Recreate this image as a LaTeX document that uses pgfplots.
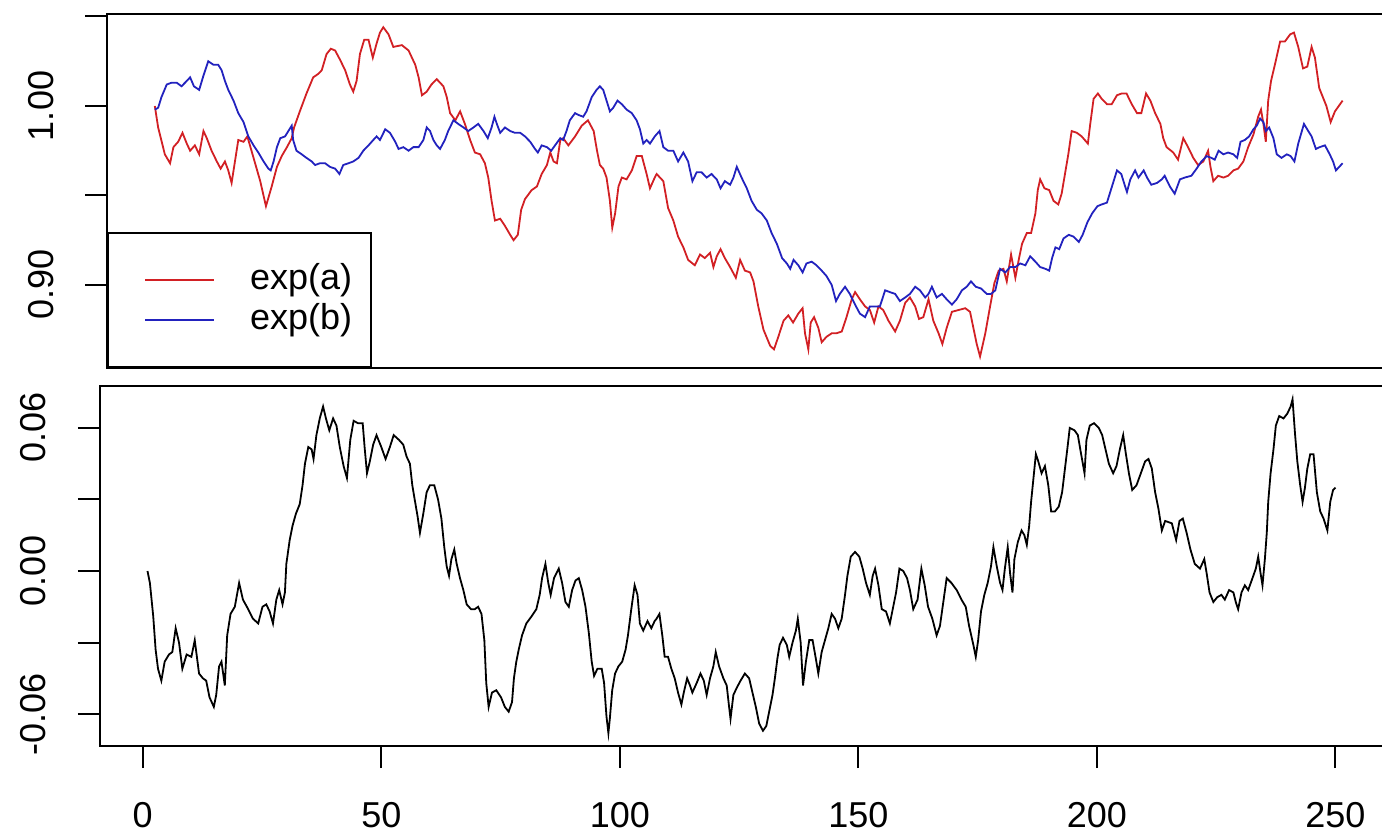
\documentclass[border=0pt]{standalone}
\usepackage{fontspec}
\setmainfont{Liberation Sans}
\usepackage{pgfplots}
\pgfplotsset{compat=1.18}
\definecolor{rred}{RGB}{210,32,36}
\definecolor{rblue}{RGB}{34,34,190}
\begin{document}
\begin{tikzpicture}
\useasboundingbox (0,0) rectangle (345.5pt,208.75pt);
\clip (0,0) rectangle (345.5pt,208.75pt);
\pgfplotsset{
  rstyle/.style={
    scale only axis, width=320.7pt,
    xmin=-8.96, xmax=259.96,
    scaled x ticks=false, scaled y ticks=false,
    axis line style={line width=0.5pt},
    every tick/.style={line width=0.5pt, black},
    tick align=outside, major tick length=5.5pt,
    xtick pos=left, ytick pos=left,
    font=\fontsize{9}{10.8}\selectfont,
    yticklabel style={rotate=90, anchor=south, inner sep=0pt},
    xticklabel style={anchor=north, inner sep=0pt},
    xticklabel shift=8.5pt, yticklabel shift=7.75pt,
  }
}
% bottom panel
\begin{axis}[rstyle, at={(25pt,22.25pt)}, anchor=south west,
  width=320.75pt, height=90pt,
  ymin=-0.0734, ymax=0.0776,
  xtick={0,50,100,150,200,250}, xticklabels={0,50,100,150,200,250},
  ytick={-0.06,-0.03,0,0.03,0.06}, yticklabels={-0.06,,0.00,,0.06}]
\addplot[black, line width=0.45pt] coordinates {
(1,0.000) (1.5,-0.005) (2.2,-0.019) (2.7,-0.033) (3.2,-0.041) (3.9,-0.046) (4.6,-0.038) (5.5,-0.035) (6.2,-0.034) (6.9,-0.024) (7.6,-0.030) (8.3,-0.041) (9.2,-0.035) (10.2,-0.036) (10.9,-0.029) (11.8,-0.043) (12.6,-0.045) (13.3,-0.046) (14.0,-0.053) (14.9,-0.057) (15.4,-0.052) (16.0,-0.040) (16.5,-0.038) (17.2,-0.048) (17.7,-0.027) (18.4,-0.018) (19.3,-0.015) (20.2,-0.005) (21.0,-0.012) (22.1,-0.016) (23.1,-0.020) (24.2,-0.022) (25.1,-0.015) (25.9,-0.014) (26.6,-0.017) (27.3,-0.022) (28.0,-0.012) (28.6,-0.008) (29.3,-0.014) (29.8,-0.009) (30.1,0.003) (30.8,0.013) (31.4,0.019) (32.1,0.024) (32.9,0.028) (33.5,0.036) (34.0,0.045) (34.7,0.052) (35.4,0.051) (35.8,0.047) (36.4,0.057) (37.1,0.064) (37.8,0.069) (38.4,0.064) (39.1,0.059) (39.9,0.064) (40.6,0.061) (41.3,0.052) (42.1,0.044) (42.8,0.039) (43.5,0.055) (44.2,0.063) (45.1,0.062) (46.1,0.062) (46.5,0.052) (47.0,0.041) (47.6,0.046) (48.3,0.053) (49.0,0.057) (50.0,0.052) (50.9,0.047) (51.8,0.052) (52.6,0.057) (53.7,0.055) (54.6,0.053) (55.3,0.048) (56.0,0.045) (56.5,0.036) (57.0,0.030) (57.6,0.023) (58.1,0.016) (58.8,0.024) (59.5,0.033) (60.2,0.036) (61.1,0.036) (61.9,0.030) (62.6,0.022) (63.2,0.010) (63.7,0.002) (64.2,-0.002) (64.7,0.005) (65.3,0.009) (65.8,0.003) (66.5,-0.003) (67.2,-0.008) (67.9,-0.014) (68.8,-0.016) (69.6,-0.016) (70.3,-0.015) (71.0,-0.018) (71.6,-0.029) (72.0,-0.047) (72.5,-0.057) (73.2,-0.051) (74.1,-0.050) (75.1,-0.053) (75.9,-0.057) (76.7,-0.059) (77.4,-0.055) (77.8,-0.045) (78.3,-0.038) (78.8,-0.033) (79.5,-0.027) (80.4,-0.022) (81.5,-0.019) (82.5,-0.016) (83.2,-0.010) (83.7,-0.003) (84.4,0.003) (85.0,-0.005) (85.5,-0.010) (86.2,-0.003) (87.2,0.001) (87.9,-0.005) (88.6,-0.013) (89.3,-0.015) (90.0,-0.008) (90.7,-0.004) (91.4,-0.003) (92.1,-0.008) (92.8,-0.015) (93.5,-0.026) (94.1,-0.038) (94.6,-0.044) (95.3,-0.041) (96.2,-0.041) (96.7,-0.047) (97.2,-0.061) (97.6,-0.068) (97.9,-0.062) (98.4,-0.050) (99.0,-0.043) (99.7,-0.040) (100.5,-0.038) (101.2,-0.033) (101.7,-0.027) (102.4,-0.016) (103.1,-0.006) (103.7,-0.010) (104.2,-0.022) (104.9,-0.025) (105.8,-0.021) (106.6,-0.024) (107.3,-0.021) (107.7,-0.020) (108.3,-0.018) (108.9,-0.027) (109.4,-0.036) (110.1,-0.036) (110.8,-0.041) (111.5,-0.045) (112.2,-0.051) (112.9,-0.056) (113.4,-0.051) (114.1,-0.045) (114.7,-0.048) (115.2,-0.051) (116.1,-0.047) (116.9,-0.043) (117.6,-0.046) (118.2,-0.052) (118.9,-0.045) (119.6,-0.040) (120.1,-0.034) (120.8,-0.040) (121.7,-0.045) (122.4,-0.048) (122.9,-0.057) (123.2,-0.062) (123.8,-0.052) (124.5,-0.049) (125.3,-0.046) (126.2,-0.043) (127.1,-0.045) (127.8,-0.051) (128.5,-0.057) (129.2,-0.064) (130.0,-0.067) (130.7,-0.065) (131.4,-0.058) (132.0,-0.052) (132.5,-0.045) (133.0,-0.037) (133.5,-0.031) (134.2,-0.028) (135.0,-0.031) (135.5,-0.036) (136.2,-0.030) (136.9,-0.025) (137.3,-0.020) (137.9,-0.030) (138.4,-0.048) (139.0,-0.038) (139.7,-0.029) (140.4,-0.029) (141.1,-0.037) (141.6,-0.043) (142.3,-0.034) (143.0,-0.029) (143.7,-0.024) (144.4,-0.018) (145.1,-0.020) (145.8,-0.024) (146.5,-0.020) (147.2,-0.010) (147.7,-0.002) (148.4,0.006) (149.3,0.008) (150.2,0.006) (150.9,0.001) (151.6,-0.005) (152.4,-0.010) (153.0,-0.002) (153.5,0.001) (154.2,-0.006) (154.9,-0.016) (155.8,-0.017) (156.6,-0.022) (157.3,-0.015) (157.9,-0.009) (158.6,0.001) (159.4,0.000) (160.2,-0.003) (160.8,-0.008) (161.5,-0.016) (162.4,-0.012) (163.2,0.001) (163.9,-0.006) (164.6,-0.015) (165.5,-0.020) (166.4,-0.027) (167.1,-0.023) (167.8,-0.013) (168.5,-0.003) (169.5,-0.005) (170.6,-0.008) (171.6,-0.012) (172.5,-0.015) (173.2,-0.023) (174.1,-0.031) (174.6,-0.036) (175.1,-0.029) (175.7,-0.017) (176.4,-0.010) (177.1,-0.005) (177.8,0.002) (178.3,0.010) (179.0,0.002) (179.7,-0.005) (180.2,-0.008) (180.7,0.001) (181.3,0.010) (181.8,-0.001) (182.3,-0.009) (182.7,0.005) (183.4,0.012) (184.2,0.017) (184.8,0.015) (185.3,0.011) (185.8,0.019) (186.2,0.029) (186.7,0.039) (187.2,0.049) (187.7,0.046) (188.4,0.041) (189.1,0.044) (189.8,0.036) (190.4,0.025) (191.2,0.025) (192.0,0.027) (192.7,0.033) (193.3,0.043) (193.9,0.053) (194.3,0.060) (195.3,0.059) (196.0,0.057) (196.6,0.050) (197.4,0.041) (197.8,0.055) (198.5,0.061) (199.4,0.062) (200.4,0.060) (201.1,0.057) (201.8,0.051) (202.5,0.045) (203.4,0.041) (204.1,0.044) (204.8,0.051) (205.5,0.057) (206.0,0.050) (206.7,0.041) (207.4,0.034) (208.3,0.036) (209.2,0.041) (210.1,0.046) (210.8,0.047) (211.5,0.043) (212.2,0.033) (212.9,0.026) (213.6,0.017) (214.3,0.021) (215.7,0.020) (216.6,0.013) (217.3,0.021) (218.0,0.022) (218.8,0.016) (219.6,0.009) (220.5,0.003) (221.6,0.001) (222.5,0.005) (223.0,-0.001) (223.6,-0.009) (224.4,-0.013) (225.2,-0.011) (226.1,-0.010) (226.8,-0.012) (227.7,-0.008) (228.6,-0.009) (229.1,-0.013) (229.6,-0.016) (230.3,-0.009) (231.0,-0.006) (231.7,-0.008) (232.6,-0.003) (233.3,0.001) (233.8,0.006) (234.3,-0.001) (234.7,-0.006) (235.2,0.005) (235.6,0.016) (235.9,0.029) (236.4,0.041) (237.0,0.051) (237.5,0.061) (238.2,0.065) (239.1,0.064) (239.9,0.066) (240.6,0.069) (241.0,0.072) (241.5,0.058) (242.0,0.046) (242.6,0.036) (243.1,0.029) (243.6,0.035) (244.1,0.043) (244.7,0.049) (245.4,0.049) (246.1,0.033) (246.8,0.025) (247.5,0.022) (248.3,0.017) (248.9,0.029) (249.5,0.034) (250,0.035)
};
\end{axis}
% top panel
\begin{axis}[rstyle, at={(26.825pt,116.75pt)}, anchor=south west,
  height=88.5pt,
  ymin=0.8536, ymax=1.0514,
  xtick=\empty,
  ytick={0.90,0.95,1.00,1.05}, yticklabels={0.90,,1.00,},
  legend style={at={(axis description cs:0,0)}, anchor=south west, draw=black, line width=0.5pt, fill=white,
    inner xsep=9pt, inner ysep=7.75pt, row sep=2pt, column sep=8.75pt,
    font=\fontsize{9}{10.8}\selectfont, cells={anchor=west}, nodes={inner sep=0pt}},
  legend image code/.code={\draw[#1, line width=0.45pt] (0pt,0pt) -- (17.25pt,0pt);}]
\addplot[rred, line width=0.45pt] coordinates {
(1,1.000) (1.7,0.988) (3.1,0.973) (4.2,0.968) (4.9,0.977) (5.9,0.980) (6.8,0.985) (7.7,0.979) (8.4,0.975) (9.4,0.978) (10.3,0.973) (11.2,0.986) (11.9,0.982) (12.9,0.975) (14.0,0.969) (14.8,0.965) (15.7,0.969) (16.4,0.964) (17.1,0.957) (17.8,0.969) (18.5,0.981) (19.6,0.980) (20.4,0.983) (21.7,0.971) (23.1,0.958) (24.3,0.944) (25.5,0.955) (26.6,0.966) (27.6,0.972) (28.7,0.977) (29.7,0.982) (30.2,0.988) (31.4,0.997) (32.8,1.007) (34.2,1.016) (35.3,1.018) (36.0,1.020) (37.0,1.029) (37.9,1.032) (38.8,1.031) (39.8,1.026) (40.9,1.020) (41.9,1.012) (42.6,1.008) (43.3,1.014) (44.0,1.029) (44.9,1.037) (45.8,1.037) (46.7,1.027) (47.5,1.035) (48.2,1.041) (48.9,1.044) (50.0,1.040) (51.0,1.033) (52.8,1.034) (54.2,1.031) (55.6,1.023) (56.3,1.016) (57.0,1.006) (58.0,1.008) (59.0,1.012) (60.1,1.015) (61.5,1.011) (62.2,1.005) (62.9,0.996) (64.0,0.992) (65.0,0.997) (66.0,0.990) (67.1,0.981) (68.1,0.974) (69.2,0.973) (70.2,0.968) (70.9,0.960) (71.6,0.947) (72.3,0.936) (73.4,0.937) (74.4,0.933) (75.5,0.928) (76.2,0.925) (77.1,0.928) (77.8,0.942) (78.6,0.948) (80.0,0.953) (81.1,0.955) (82.1,0.962) (83.2,0.967) (83.9,0.974) (84.6,0.969) (85.3,0.968) (86.0,0.981) (86.6,0.982) (87.7,0.978) (89.1,0.983) (90.5,0.989) (91.8,0.992) (93.0,0.986) (93.7,0.975) (94.3,0.967) (95.0,0.965) (95.7,0.960) (96.4,0.947) (96.9,0.932) (97.5,0.940) (98.2,0.955) (98.9,0.960) (99.9,0.959) (101.0,0.964) (102.0,0.972) (103.1,0.972) (104.1,0.962) (104.8,0.954) (105.8,0.960) (106.2,0.962) (107.6,0.958) (108.6,0.943) (109.7,0.936) (110.7,0.927) (111.8,0.921) (112.8,0.914) (114.2,0.911) (115.3,0.917) (116.3,0.915) (117.4,0.918) (118.1,0.910) (118.8,0.916) (119.6,0.920) (120.5,0.915) (121.6,0.910) (122.8,0.904) (123.7,0.914) (124.7,0.908) (125.8,0.907) (126.5,0.902) (127.5,0.888) (128.6,0.875) (130.0,0.866) (130.8,0.864) (131.7,0.871) (132.8,0.880) (133.8,0.883) (134.8,0.879) (135.9,0.884) (136.8,0.887) (137.3,0.873) (138.0,0.864) (138.5,0.879) (139.2,0.882) (140.1,0.876) (140.8,0.868) (141.8,0.871) (142.9,0.873) (143.9,0.873) (145.0,0.874) (146.0,0.882) (147.1,0.892) (147.8,0.896) (148.8,0.892) (149.9,0.888) (150.9,0.886) (151.8,0.879) (152.7,0.888) (153.7,0.886) (154.8,0.880) (156.2,0.874) (157.2,0.880) (158.3,0.890) (159.3,0.893) (160.4,0.888) (161.2,0.881) (162.1,0.882) (163.2,0.892) (164.2,0.880) (165.3,0.873) (166.1,0.867) (167.0,0.876) (168.1,0.885) (169.5,0.886) (170.9,0.887) (171.9,0.885) (172.6,0.876) (173.3,0.867) (174.0,0.860) (175.1,0.873) (176.1,0.888) (177.0,0.901) (177.9,0.908) (178.9,0.909) (179.6,0.902) (180.5,0.917) (181.4,0.904) (182.1,0.914) (182.8,0.923) (183.8,0.929) (184.7,0.929) (185.6,0.940) (186.1,0.953) (186.6,0.959) (187.5,0.954) (188.5,0.953) (189.4,0.947) (190.4,0.945) (191.1,0.951) (191.8,0.962) (192.5,0.973) (193.2,0.986) (194.3,0.985) (195.3,0.983) (196.6,0.979) (197.1,0.990) (197.8,1.004) (198.7,1.007) (199.5,1.004) (200.6,1.001) (201.6,1.001) (202.7,1.006) (203.7,1.007) (204.7,1.007) (205.8,1.001) (206.9,0.996) (207.8,0.996) (208.8,1.007) (209.7,1.003) (210.7,0.996) (211.8,0.990) (212.4,0.982) (213.1,0.977) (214.5,0.974) (215.5,0.970) (216.6,0.982) (217.6,0.977) (218.7,0.971) (219.7,0.967) (220.8,0.969) (221.8,0.975) (222.3,0.966) (222.9,0.958) (223.9,0.961) (225.0,0.960) (226.0,0.961) (227.1,0.964) (228.1,0.965) (229.2,0.969) (230.2,0.977) (231.3,0.984) (232.3,0.994) (232.9,0.998) (233.4,0.990) (233.9,0.980) (234.4,1.003) (235.0,1.014) (235.8,1.023) (236.9,1.036) (237.9,1.036) (239.0,1.040) (239.8,1.041) (240.7,1.033) (241.7,1.021) (242.6,1.022) (243.5,1.033) (244.2,1.027) (245.1,1.010) (246.0,1.004) (246.6,1.000) (247.5,0.991) (248.4,0.997) (250,1.003)
};
\addlegendentry{exp(a)\hspace*{-4.25pt}}
\addplot[rblue, line width=0.45pt] coordinates {
(1,0.998) (1.7,0.999) (2.4,1.005) (3.5,1.012) (4.5,1.013) (5.6,1.013) (6.6,1.011) (7.7,1.014) (8.4,1.016) (9.2,1.011) (10.3,1.009) (11.2,1.017) (12.2,1.025) (13.3,1.023) (14.3,1.023) (15.0,1.020) (15.7,1.014) (16.4,1.009) (17.5,1.003) (18.5,0.996) (19.6,0.991) (20.6,0.983) (21.7,0.978) (22.7,0.974) (23.8,0.969) (24.8,0.965) (25.3,0.964) (25.9,0.969) (26.6,0.977) (27.3,0.982) (28.3,0.983) (29.0,0.986) (29.7,0.989) (30.0,0.981) (30.7,0.975) (31.8,0.973) (32.8,0.971) (33.9,0.969) (34.6,0.967) (35.6,0.968) (36.7,0.968) (37.7,0.966) (38.8,0.965) (39.7,0.962) (40.5,0.967) (41.6,0.968) (42.6,0.969) (43.7,0.971) (44.7,0.975) (45.8,0.978) (46.8,0.981) (47.5,0.983) (48.2,0.981) (49.3,0.987) (50.3,0.985) (51.4,0.980) (52.1,0.976) (53.1,0.977) (54.2,0.975) (55.2,0.977) (56.3,0.977) (57.3,0.981) (58.0,0.988) (58.7,0.986) (59.4,0.981) (60.1,0.978) (60.8,0.976) (61.8,0.981) (62.5,0.986) (63.6,0.992) (64.6,0.990) (65.7,0.988) (66.7,0.986) (67.8,0.988) (68.8,0.990) (69.9,0.986) (70.8,0.982) (71.6,0.988) (72.2,0.994) (72.7,0.990) (73.4,0.985) (74.4,0.988) (75.5,0.986) (76.5,0.985) (77.6,0.985) (78.6,0.983) (79.7,0.980) (80.7,0.976) (81.3,0.974) (82.1,0.978) (83.2,0.977) (84.1,0.975) (84.9,0.978) (86.0,0.982) (86.6,0.981) (87.3,0.986) (88.0,0.992) (89.1,0.996) (89.8,0.995) (90.8,0.994) (91.5,0.997) (92.6,1.005) (93.6,1.009) (94.3,1.011) (95.0,1.009) (95.7,1.003) (96.4,0.997) (97.1,0.999) (98.0,1.003) (98.9,1.001) (99.9,0.998) (101.0,0.996) (102.0,0.992) (102.7,0.987) (103.4,0.979) (104.1,0.981) (104.8,0.979) (105.8,0.983) (106.8,0.986) (107.6,0.977) (108.6,0.975) (109.7,0.975) (110.7,0.969) (111.8,0.974) (112.8,0.969) (113.7,0.958) (114.6,0.963) (115.6,0.963) (116.7,0.960) (117.7,0.962) (118.8,0.959) (119.6,0.954) (120.5,0.958) (121.6,0.956) (122.3,0.960) (123.0,0.966) (124.0,0.960) (125.1,0.954) (126.1,0.947) (127.2,0.942) (128.2,0.940) (129.3,0.936) (130.3,0.929) (131.4,0.923) (132.5,0.915) (133.5,0.912) (134.2,0.909) (134.9,0.914) (135.9,0.911) (136.8,0.907) (137.6,0.912) (138.7,0.913) (139.7,0.911) (140.8,0.908) (141.8,0.905) (142.9,0.900) (143.8,0.891) (144.6,0.895) (145.7,0.899) (146.7,0.895) (147.8,0.889) (148.8,0.884) (149.9,0.882) (150.9,0.888) (152.0,0.888) (153.0,0.888) (154.1,0.897) (155.1,0.896) (156.2,0.895) (157.2,0.891) (158.3,0.893) (159.3,0.895) (160.4,0.899) (161.4,0.897) (162.5,0.893) (163.2,0.895) (163.9,0.899) (164.9,0.893) (166.0,0.895) (167.0,0.892) (168.1,0.889) (169.1,0.892) (170.2,0.897) (171.2,0.899) (172.1,0.902) (173.1,0.899) (174.2,0.898) (175.4,0.895) (176.3,0.895) (177.2,0.897) (178.2,0.909) (179.3,0.907) (180.3,0.910) (181.4,0.910) (182.4,0.912) (183.5,0.911) (184.5,0.916) (185.6,0.913) (186.6,0.910) (187.7,0.909) (188.5,0.908) (189.1,0.915) (189.8,0.921) (190.6,0.920) (191.5,0.926) (192.6,0.928) (193.6,0.927) (194.7,0.924) (195.5,0.928) (196.5,0.935) (197.5,0.940) (198.6,0.944) (199.5,0.945) (200.6,0.946) (201.3,0.952) (202.0,0.958) (202.7,0.964) (203.6,0.962) (204.3,0.956) (204.8,0.952) (205.5,0.959) (206.5,0.964) (207.2,0.960) (208.3,0.964) (209.0,0.960) (209.9,0.956) (211.1,0.957) (212.1,0.959) (212.7,0.961) (213.8,0.955) (214.8,0.951) (215.9,0.959) (216.9,0.960) (218.3,0.961) (219.4,0.965) (220.4,0.969) (221.5,0.972) (222.5,0.971) (223.2,0.970) (224.0,0.975) (225.0,0.973) (226.0,0.974) (227.1,0.973) (227.9,0.971) (228.6,0.980) (229.5,0.981) (230.4,0.983) (231.3,0.987) (232.0,0.989) (232.7,0.993) (233.4,0.991) (233.9,0.986) (234.6,0.988) (235.5,0.982) (236.2,0.973) (237.2,0.971) (238.3,0.973) (239.1,0.972) (239.9,0.969) (240.7,0.979) (241.9,0.990) (242.8,0.986) (243.5,0.983) (244.4,0.976) (245.2,0.977) (246.3,0.978) (247.3,0.973) (248.0,0.969) (248.6,0.964) (250,0.968)
};
\addlegendentry{exp(b)\hspace*{-4.25pt}}
\end{axis}
\end{tikzpicture}
\end{document}
